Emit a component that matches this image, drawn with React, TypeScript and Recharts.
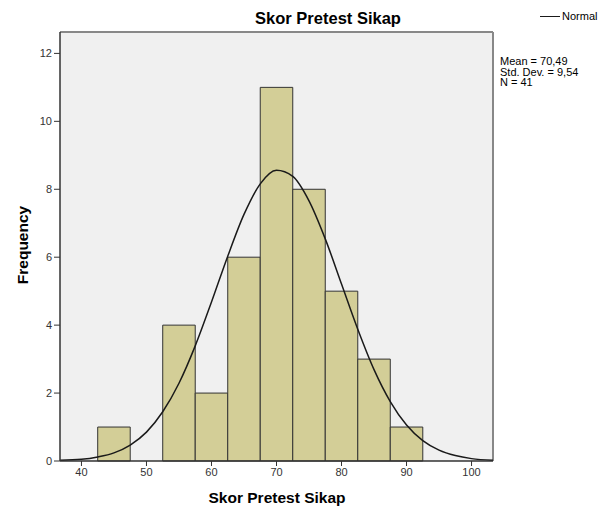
import {
  ComposedChart,
  Line,
  XAxis,
  YAxis,
  CartesianGrid,
  ReferenceArea,
  ReferenceLine,
} from 'recharts';

// histogram bins (score range) and their frequencies
const binLow = [42.5, 52.5, 57.5, 62.5, 67.5, 72.5, 77.5, 82.5, 87.5];
const binHigh = [47.5, 57.5, 62.5, 67.5, 72.5, 77.5, 82.5, 87.5, 92.5];
const binCount = [1, 4, 2, 6, 11, 8, 5, 3, 1];

// normal curve
const curveX = [
  36.7, 40, 42.5, 45, 47.5, 50, 52.5, 55, 57.5, 60, 62.5, 65, 67.5, 70, 72.5,
  75, 77.5, 80, 82.5, 85, 87.5, 90, 92.5, 95, 97.5, 100, 103.3,
];
const curveY = [
  0.02, 0.05, 0.12, 0.24, 0.47, 0.85, 1.45, 2.29, 3.39, 4.68, 6.03, 7.26, 8.16,
  8.56, 8.38, 7.66, 6.54, 5.21, 3.88, 2.69, 1.75, 1.06, 0.6, 0.32, 0.16, 0.07,
  0.02,
];

const xTicks = [40, 50, 60, 70, 80, 90, 100];
const yTicks = [0, 2, 4, 6, 8, 10, 12];
const xDomain: [number, number] = [36.7, 103.3];
const yDomain: [number, number] = [0, 12.63];

const statLines = ['Mean = 70,49', 'Std. Dev. = 9,54', 'N = 41'];

const FONT = '"Liberation Sans", Arial, sans-serif';

const data = curveX.map((x, i) => ({ x, y: curveY[i] }));

const centered = (left: number, top: number): React.CSSProperties => ({
  position: 'absolute',
  left,
  top,
  transform: 'translate(-50%, -50%)',
  whiteSpace: 'nowrap',
  lineHeight: 1,
});

export default function App() {
  return (
    <div
      style={{
        position: 'absolute',
        left: 0,
        top: 0,
        width: 599,
        height: 512,
        background: '#fff',
        fontFamily: FONT,
        color: '#000',
      }}
    >
      <ComposedChart
        width={599}
        height={512}
        data={data}
        margin={{ top: 32, right: 106, bottom: 21, left: 0 }}
      >
        <CartesianGrid
          fill="#f0f0f0"
          horizontal={false}
          vertical={false}
          stroke="none"
        />
        <XAxis
          type="number"
          dataKey="x"
          domain={xDomain}
          ticks={xTicks}
          allowDataOverflow
          height={30}
          tickSize={5}
          tick={{ fontSize: 11, fill: '#333', fontFamily: FONT }}
          axisLine={{ stroke: '#333', strokeWidth: 1.5 }}
          tickLine={{ stroke: '#333' }}
        />
        <YAxis
          type="number"
          domain={yDomain}
          ticks={yTicks}
          allowDataOverflow
          width={60}
          tickSize={6}
          tick={{ fontSize: 11, fill: '#333', fontFamily: FONT }}
          axisLine={{ stroke: '#333', strokeWidth: 1.5 }}
          tickLine={{ stroke: '#333' }}
        />
        {binCount.map((c, i) => (
          <ReferenceArea
            key={i}
            x1={binLow[i]}
            x2={binHigh[i]}
            y1={0}
            y2={c}
            fill="#d3ce97"
            fillOpacity={1}
            stroke="#333"
            strokeWidth={1}
          />
        ))}
        <ReferenceLine y={yDomain[1]} stroke="#888" strokeWidth={2} />
        <ReferenceLine x={xDomain[1]} stroke="#888" strokeWidth={2} />
        <Line
          type="monotone"
          dataKey="y"
          stroke="#1a1a1a"
          strokeWidth={1.5}
          dot={false}
          isAnimationActive={false}
        />
      </ComposedChart>

      <div style={{ ...centered(328, 18), fontSize: 16.5, fontWeight: 'bold' }}>
        Skor Pretest Sikap
      </div>
      <div style={{ ...centered(277, 498), fontSize: 15.5, fontWeight: 'bold' }}>
        Skor Pretest Sikap
      </div>
      <div
        style={{
          ...centered(23, 245),
          transform: 'translate(-50%, -50%) rotate(-90deg)',
          fontSize: 15.5,
          fontWeight: 'bold',
        }}
      >
        Frequency
      </div>

      {/* legend */}
      <div
        style={{
          position: 'absolute',
          left: 540,
          top: 16,
          width: 20,
          borderTop: '1.5px solid #1a1a1a',
        }}
      />
      <div
        style={{
          position: 'absolute',
          left: 562,
          top: 11,
          fontSize: 11,
          lineHeight: '11px',
          whiteSpace: 'nowrap',
        }}
      >
        Normal
      </div>

      {/* summary stats */}
      <div
        style={{
          position: 'absolute',
          left: 500,
          top: 56,
          fontSize: 11,
          lineHeight: '10.5px',
          whiteSpace: 'nowrap',
        }}
      >
        {statLines.map((s) => (
          <div key={s}>{s}</div>
        ))}
      </div>
    </div>
  );
}
